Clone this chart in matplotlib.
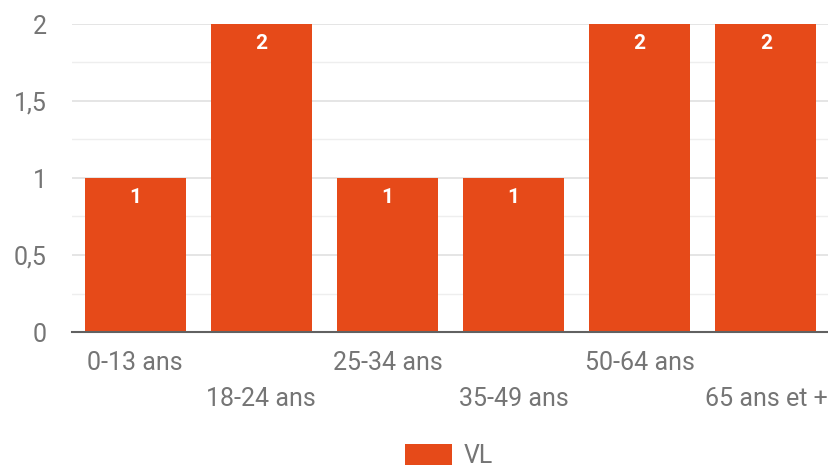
import matplotlib.pyplot as plt
from matplotlib.ticker import MultipleLocator, FuncFormatter

categories = ["0-13 ans", "18-24 ans", "25-34 ans", "35-49 ans", "50-64 ans", "65 ans et +"]
values = [1, 2, 1, 1, 2, 2]
series_name = "VL"

bar_color = "#e64a19"
text_gray = "#757575"

plt.rcParams["font.family"] = ["Roboto", "DejaVu Sans"]

fig = plt.figure(figsize=(8.29, 4.69), dpi=100)
ax = fig.add_axes([72 / 829, 137 / 469, 757 / 829, 308 / 469])

x = range(len(categories))
bars = ax.bar(x, values, width=0.8, color=bar_color, label=series_name, zorder=3)
ax.bar_label(bars, labels=[str(v) for v in values], padding=-21,
             color="white", fontsize=15, fontweight="bold")

ax.set_xlim(-0.5, len(categories) - 0.5)
ax.set_ylim(0, 2)
ax.yaxis.set_major_locator(MultipleLocator(0.5))
ax.yaxis.set_minor_locator(MultipleLocator(0.25))
ax.yaxis.set_major_formatter(FuncFormatter(lambda v, p: f"{v:g}".replace(".", ",")))
ax.grid(axis="y", which="major", color="#e0e0e0", linewidth=1.2, zorder=0)
ax.grid(axis="y", which="minor", color="#eeeeee", linewidth=1.0, zorder=0)

for s in ["top", "right", "left"]:
    ax.spines[s].set_visible(False)
ax.spines["bottom"].set_color("#616161")
ax.spines["bottom"].set_linewidth(1.5)
ax.spines["bottom"].set_zorder(4)

ax.tick_params(axis="y", which="both", length=0, pad=18, labelsize=18, labelcolor=text_gray)
ax.tick_params(axis="x", length=0, labelsize=18, labelcolor=text_gray)
ax.set_xticks(list(x))
ax.set_xticklabels(categories)
for i, t in enumerate(ax.xaxis.get_major_ticks()):
    t.set_pad(14 if i % 2 == 0 else 39.5)

leg = fig.legend(loc="center", bbox_to_anchor=(449 / 829, 1 - 456 / 469), frameon=False,
                 fontsize=18, handlelength=1.9, handleheight=0.95, handletextpad=0.45,
                 borderpad=0, borderaxespad=0)
for txt in leg.get_texts():
    txt.set_color(text_gray)

fig.savefig("out.png", dpi=100)
